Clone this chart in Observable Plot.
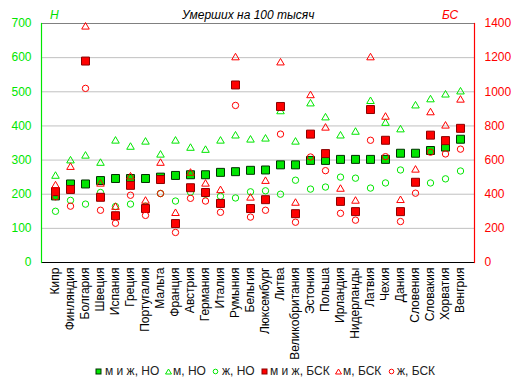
<!DOCTYPE html>
<html>
<head>
<meta charset="utf-8">
<script src="https://cdn.jsdelivr.net/npm/d3@7"></script>
<script src="https://cdn.jsdelivr.net/npm/@observablehq/plot@0.6"></script>
<style>
  body { margin: 0; background: #fff; font-family: "Liberation Sans", Arial, sans-serif; }
  #wrap { position: relative; width: 521px; height: 389px; overflow: hidden; }
  #chart { position: absolute; left: 0; top: 0; }
  .lbl { position: absolute; font-size: 12px; line-height: 14px; white-space: nowrap; font-style: italic; }
  #legend { position: absolute; left: 0; top: 0; width: 521px; height: 389px; font-size: 12px; line-height: 14px; color: #222; pointer-events: none; }
  #legend .mk { position: absolute; line-height: 0; }
  #legend .mk svg { display: block; }
  #legend .tx { position: absolute; white-space: nowrap; }
</style>
</head>
<body>
<div id="wrap">
  <div id="chart"></div>
  <div class="lbl" style="left:182px; top:8px; color:#000">Умерших на 100 тысяч</div>
  <div class="lbl" style="left:50px; top:8px; color:#00e000">Н</div>
  <div class="lbl" style="left:442px; top:8px; color:#ff0000">БС</div>
  <div id="legend"></div>
</div>
<script>
const countries = ["Кипр","Финляндия","Болгария","Швеция","Испания","Греция","Португалия","Мальта","Франция","Австрия","Германия","Италия","Румыния","Бельгия","Люксембург","Литва","Великобритания","Эстония","Польша","Ирландия","Нидерланды","Латвия","Чехия","Дания","Словения","Словакия","Хорватия","Венгрия"];

// Новообразования (left axis)
const noBoth  = [195,230,230,240,246,246,246,250,255,257,257,264,266,270,271,286,286,299,299,302,302,302,302,320,320,328,338,361];
const noMen   = [253,298,312,291,356,338,353,315,356,335,329,356,371,359,362,442,353,465,424,371,382,472,408,389,459,477,491,500];
const noWomen = [150,182,171,205,164,171,165,202,180,206,200,194,189,207,210,200,241,215,221,250,247,218,233,271,235,233,245,268];

// Болезни системы кровообращения (right axis)
const bskBoth  = [415,428,1180,382,274,452,316,486,228,438,410,346,1040,316,368,914,286,752,638,358,298,896,716,298,470,746,714,786];
const bskMen   = [450,558,1380,460,324,502,360,582,288,524,460,422,1200,378,476,1170,348,978,788,430,360,1200,852,364,542,878,800,952];
const bskWomen = [385,330,1020,306,230,394,276,404,176,376,360,294,920,266,306,752,236,618,538,288,248,716,620,240,406,646,636,664];

const leftTicks = [0,100,200,300,400,500,600,700];
const seriesNames = ["м и ж, НО","м, НО","ж, НО","м и ж, БСК","м, БСК","ж, БСК"];

const GREEN = "#00e600";
const RED = "#ff0000";

const rows = (vals, k) => countries.map((c, i) => ({country: c, v: vals[i] / k}));

const chart = Plot.plot({
  width: 521,
  height: 389,
  marginLeft: 41,
  marginRight: 47,
  marginTop: 23,
  marginBottom: 127,
  style: {fontFamily: "Liberation Sans, Arial, sans-serif", fontSize: "12px", background: "#fff"},
  x: {type: "point", domain: countries, padding: 0.5, label: null},
  y: {domain: [0, 700], label: null},
  marks: [
    Plot.ruleY(leftTicks.filter(t => t > 0 && t < 700), {stroke: "#c0c0c0", strokeWidth: 1}),
    Plot.ruleY([700], {stroke: "#808080", strokeWidth: 1}),
    Plot.ruleY([0], {stroke: "#000", strokeWidth: 1}),
    Plot.frame({anchor: "left", stroke: GREEN, strokeWidth: 1.2}),
    Plot.frame({anchor: "right", stroke: RED, strokeWidth: 1.2}),
    Plot.axisY({anchor: "left", ticks: leftTicks, tickSize: 0, tickPadding: 10, fill: GREEN, label: null, fontSize: 12}),
    Plot.axisY({anchor: "right", ticks: leftTicks, tickSize: 0, tickPadding: 10, tickFormat: d => String(d * 2), fill: RED, label: null, fontSize: 12}),
    Plot.axisX({tickRotate: -90, tickSize: 0, tickPadding: 5, fill: "#000", label: null, fontSize: 12}),
    Plot.dot(rows(noBoth, 1), {x: "country", y: "v", symbol: "square", r: 4.5, fill: GREEN, stroke: "#003000", strokeWidth: 1}),
    Plot.dot(rows(noMen, 1), {x: "country", y: "v", symbol: "triangle", r: 2.8, fill: "none", stroke: GREEN, strokeWidth: 1}),
    Plot.dot(rows(noWomen, 1), {x: "country", y: "v", symbol: "circle", r: 3.2, fill: "none", stroke: GREEN, strokeWidth: 1}),
    Plot.dot(rows(bskBoth, 2), {x: "country", y: "v", symbol: "square", r: 4.5, fill: RED, stroke: "#8b0000", strokeWidth: 1}),
    Plot.dot(rows(bskMen, 2), {x: "country", y: "v", symbol: "triangle", r: 2.8, fill: "none", stroke: RED, strokeWidth: 1}),
    Plot.dot(rows(bskWomen, 2), {x: "country", y: "v", symbol: "circle", r: 3.2, fill: "none", stroke: RED, strokeWidth: 1})
  ]
});
document.getElementById("chart").appendChild(chart);

// legend (layout positions)
const legendSymbols = [
  `<rect x="1" y="1" width="5" height="5" fill="${GREEN}" stroke="#003000"/>`,
  `<path d="M3.5 1 L6.5 6 L0.5 6 Z" fill="none" stroke="${GREEN}"/>`,
  `<circle cx="3.5" cy="3.5" r="2.3" fill="none" stroke="${GREEN}"/>`,
  `<rect x="1" y="1" width="5" height="5" fill="${RED}" stroke="#8b0000"/>`,
  `<path d="M3.5 1 L6.5 6 L0.5 6 Z" fill="none" stroke="${RED}"/>`,
  `<circle cx="3.5" cy="3.5" r="2.3" fill="none" stroke="${RED}"/>`
];
const markerX = [95, 165, 212, 261, 335, 388];
const textX   = [105, 173, 222, 270, 343, 397];
const leg = document.getElementById("legend");
seriesNames.forEach((name, i) => {
  const mk = document.createElement("div");
  mk.className = "mk";
  mk.style.left = markerX[i] + "px";
  mk.style.top = "368px";
  mk.innerHTML = `<svg width="7" height="7">${legendSymbols[i]}</svg>`;
  leg.appendChild(mk);
  const tx = document.createElement("div");
  tx.className = "tx";
  tx.style.left = textX[i] + "px";
  tx.style.top = "364px";
  tx.textContent = name;
  leg.appendChild(tx);
});
</script>
</body>
</html>
